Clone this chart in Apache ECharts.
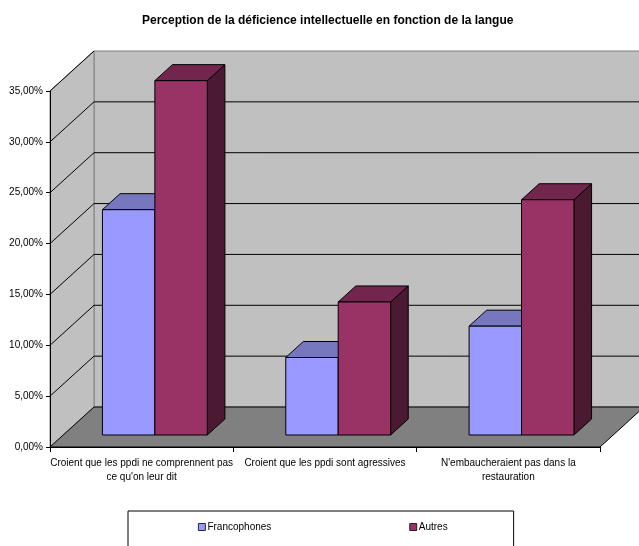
<!DOCTYPE html>
<html>
<head>
<meta charset="utf-8">
<script src="https://cdn.jsdelivr.net/npm/echarts@6/dist/echarts.min.js"></script>
<style>
html, body { margin: 0; padding: 0; background: #fff; }
#main { width: 639px; height: 546px; }
</style>
</head>
<body>
<div id="main"></div>
<script>
var chart = echarts.init(document.getElementById('main'));

var categories = [
    "Croient que les ppdi ne comprennent pas\nce qu'on leur dit",
    "Croient que les ppdi sont agressives",
    "N'embaucheraient pas dans la\nrestauration"
];
var francophones = [22.15, 7.62, 10.70];
var autres = [34.84, 13.08, 23.13];
var yTicks = [0, 5, 10, 15, 20, 25, 30, 35];

// profondeur du "3D" (decalage de la paroi du fond)
var DX = 44, DY = -40;
var BAR_RATIO = 0.286;

function renderWalls(params, api) {
    var cs = params.coordSys;
    var x0 = cs.x, x1 = cs.x + cs.width;
    var yb = api.coord([0, 0])[1];
    var yt = api.coord([0, 35])[1];
    var children = [];
    // paroi du fond
    children.push({
        type: 'polygon',
        shape: { points: [[x0 + DX, yt + DY], [x1 + DX, yt + DY], [x1 + DX, yb + DY], [x0 + DX, yb + DY]] },
        style: { fill: '#c0c0c0', stroke: '#808080', lineWidth: 1 }
    });
    // paroi gauche
    children.push({
        type: 'polygon',
        shape: { points: [[x0, yb], [x0, yt], [x0 + DX, yt + DY], [x0 + DX, yb + DY]] },
        style: { fill: '#c0c0c0', stroke: '#808080', lineWidth: 1 }
    });
    // sol
    children.push({
        type: 'polygon',
        shape: { points: [[x0, yb], [x1, yb], [x1 + DX, yb + DY], [x0 + DX, yb + DY]] },
        style: { fill: '#808080', stroke: '#000', lineWidth: 1 }
    });
    for (var i = 1; i < yTicks.length; i++) {
        var y = api.coord([0, yTicks[i]])[1];
        children.push({
            type: 'line',
            shape: { x1: x0, y1: y, x2: x0 + DX, y2: y + DY },
            style: { stroke: '#000', lineWidth: 1 }
        });
        if (i < yTicks.length - 1) {
            children.push({
                type: 'line',
                shape: { x1: x0 + DX, y1: y + DY, x2: x1 + DX, y2: y + DY },
                style: { stroke: '#000', lineWidth: 1 }
            });
        }
    }
    return { type: 'group', children: children };
}

function makeBarRenderer(side, front, top, dark) {
    return function(params, api) {
        var cat = api.value(0), val = api.value(1);
        var base = api.coord([cat, 0]);
        var tp = api.coord([cat, val]);
        var bw = api.size([1, 0])[0] * BAR_RATIO;
        var ox = DX * 0.3, oy = DY * 0.3;
        var bdx = DX * 0.4, bdy = DY * 0.4;
        var x = base[0] + ox + (side === 0 ? -bw : 0);
        var yb = base[1] + oy;
        var yt = tp[1] + oy;
        return {
            type: 'group',
            children: [{
                type: 'polygon',
                shape: { points: [[x + bw, yt], [x + bw + bdx, yt + bdy], [x + bw + bdx, yb + bdy], [x + bw, yb]] },
                style: { fill: dark, stroke: '#000', lineWidth: 1 }
            }, {
                type: 'polygon',
                shape: { points: [[x, yt], [x + bw, yt], [x + bw + bdx, yt + bdy], [x + bdx, yt + bdy]] },
                style: { fill: top, stroke: '#000', lineWidth: 1 }
            }, {
                type: 'rect',
                shape: { x: x, y: yt, width: bw, height: yb - yt },
                style: { fill: front, stroke: '#000', lineWidth: 1 }
            }]
        };
    };
}

function toData(arr) {
    var out = [];
    for (var i = 0; i < arr.length; i++) out.push([i, arr[i]]);
    return out;
}

option = {
    backgroundColor: '#fff',
    animation: false,
    title: {
        text: 'Perception de la déficience intellectuelle en fonction de la langue',
        left: 137,
        top: 10,
        textStyle: {
            fontSize: 12,
            fontWeight: 'bold',
            fontFamily: 'Liberation Sans, Arial',
            color: '#000'
        }
    },
    legend: {
        data: ['Francophones', 'Autres'],
        left: 128,
        top: 511,
        padding: [11, 66, 20, 70],
        itemGap: 138,
        itemWidth: 7,
        itemHeight: 7,
        icon: 'rect',
        borderColor: '#000',
        borderWidth: 1,
        itemStyle: { borderColor: '#000', borderWidth: 0.8 },
        textStyle: { fontSize: 10, fontFamily: 'Liberation Sans, Arial', color: '#000', padding: [0, 0, 0, -3] }
    },
    grid: {
        left: 50,
        right: 39,
        top: 91,
        bottom: 99
    },
    xAxis: {
        type: 'category',
        data: categories,
        axisLine: { show: true, lineStyle: { color: '#000', width: 1 } },
        axisTick: { show: true, length: 5, lineStyle: { color: '#000' } },
        axisLabel: {
            interval: 0,
            margin: 9,
            fontSize: 10,
            lineHeight: 14,
            fontFamily: 'Liberation Sans, Arial',
            color: '#000'
        },
        z: 10
    },
    yAxis: {
        type: 'value',
        min: 0,
        max: 35,
        interval: 5,
        splitLine: { show: false },
        axisLine: { show: true, lineStyle: { color: '#000', width: 1 } },
        axisTick: { show: true, length: 4, lineStyle: { color: '#000' } },
        axisLabel: {
            margin: 7,
            fontSize: 10,
            fontFamily: 'Liberation Sans, Arial',
            color: '#000',
            formatter: function(v) {
                return v.toFixed(2).replace('.', ',') + '%';
            }
        },
        z: 10
    },
    series: [{
        type: 'custom',
        name: 'murs',
        silent: true,
        clip: false,
        z: 0,
        renderItem: renderWalls,
        data: [[0, 0]]
    }, {
        type: 'custom',
        name: 'Francophones',
        clip: false,
        z: 2,
        itemStyle: { color: '#9999ff' },
        renderItem: makeBarRenderer(0, '#9999ff', '#7777c0', '#4d4d80'),
        data: toData(francophones)
    }, {
        type: 'custom',
        name: 'Autres',
        clip: false,
        z: 3,
        itemStyle: { color: '#993366' },
        renderItem: makeBarRenderer(1, '#993366', '#73264d', '#4c1933'),
        data: toData(autres)
    }]
};

chart.setOption(option);
</script>
</body>
</html>
